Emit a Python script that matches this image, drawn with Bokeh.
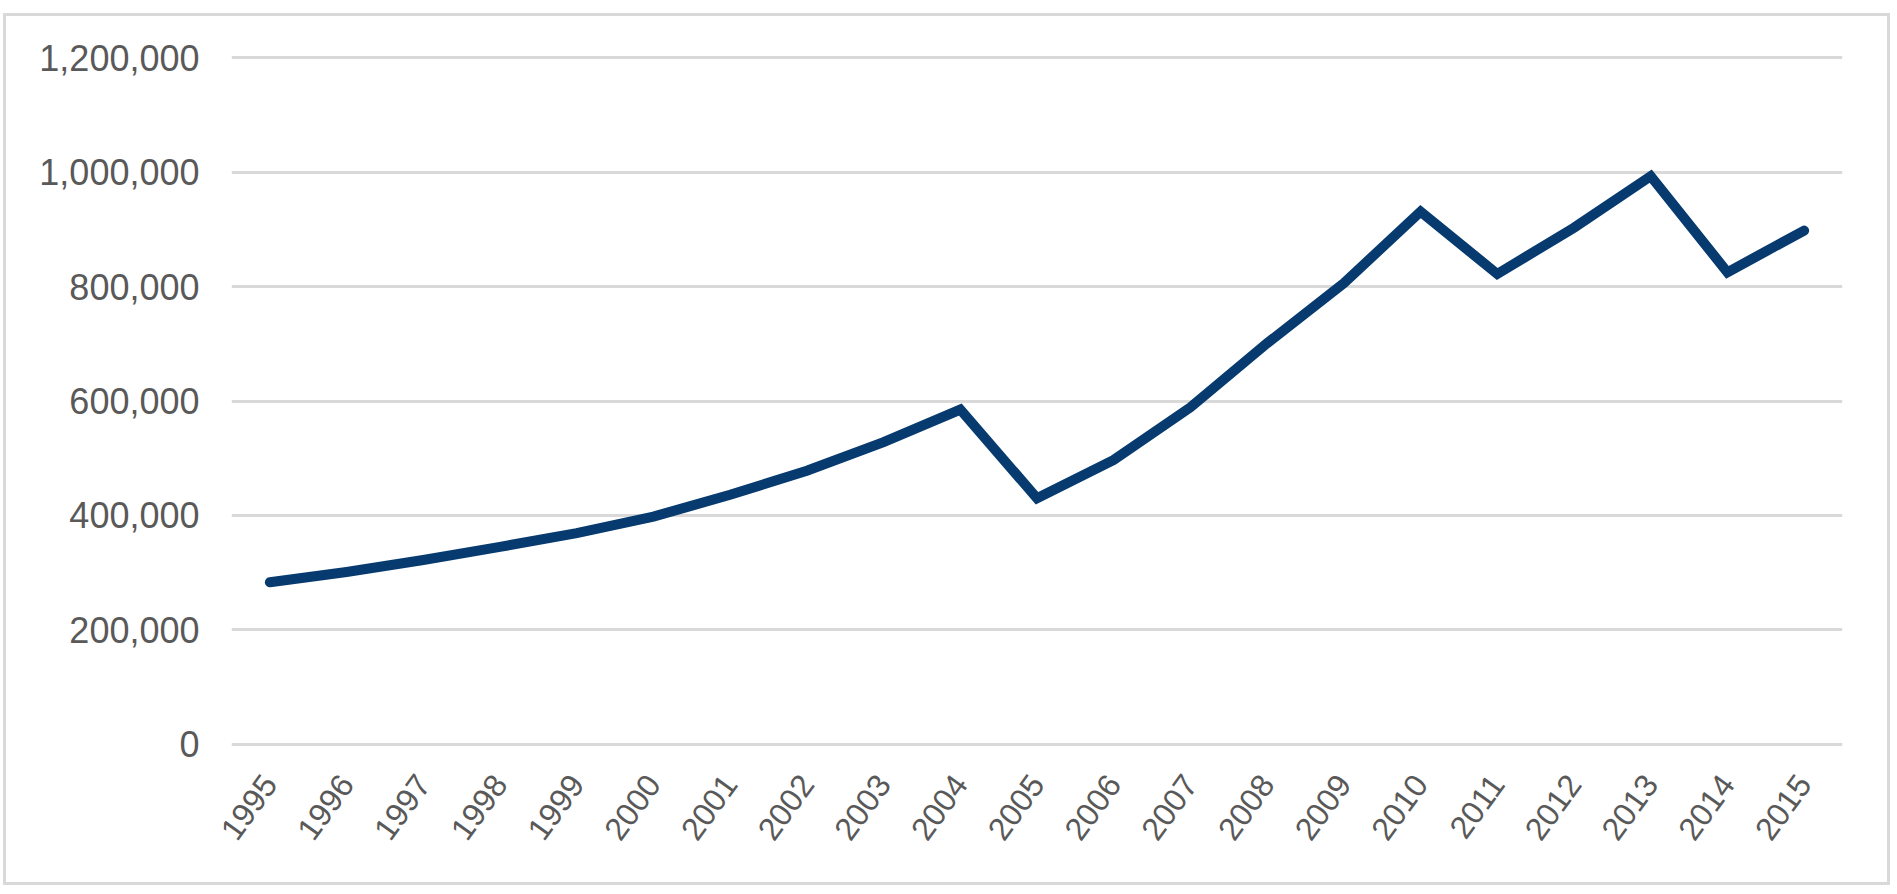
import math
from bokeh.plotting import figure
from bokeh.models import Range1d, FixedTicker, NumeralTickFormatter
from bokeh.embed import file_html
from bokeh.resources import INLINE

years = ["1995", "1996", "1997", "1998", "1999", "2000", "2001", "2002", "2003", "2004",
         "2005", "2006", "2007", "2008", "2009", "2010", "2011", "2012", "2013", "2014", "2015"]
values = [283000, 301000, 322000, 345000, 369000, 398000, 436000, 478000, 528000, 585000,
          430000, 497000, 589000, 701000, 806000, 931000, 822000, 903000, 993000, 825000, 898000]
y_ticks = [0, 200000, 400000, 600000, 800000, 1000000, 1200000]

p = figure(x_range=years, y_range=Range1d(-4000, 1204000),
           width=1887, height=872, output_backend="svg", toolbar_location=None,
           min_border_left=225, min_border_right=51, min_border_top=39, min_border_bottom=142)
p.styles = {"border": "3px solid #d9d9d9", "transform": "translate(3px, 13px)"}
p.x_range.range_padding = 0
p.outline_line_color = None
p.background_fill_color = "white"
p.border_fill_color = "white"

p.line(years, values, line_color="#073b6f", line_width=10, line_join="miter", line_cap="round")

p.xgrid.grid_line_color = None
p.ygrid.grid_line_color = "#d9d9d9"
p.ygrid.grid_line_width = 3

p.yaxis.ticker = FixedTicker(ticks=y_ticks)
p.yaxis.formatter = NumeralTickFormatter(format="0,0")
for ax in (p.xaxis[0], p.yaxis[0]):
    ax.axis_line_color = None
    ax.major_tick_line_color = None
    ax.minor_tick_line_color = None
    ax.major_tick_out = 0
    ax.major_tick_in = 0
    ax.major_label_text_color = "#595959"
    ax.major_label_text_font = "Liberation Sans"

p.yaxis.major_label_text_font_size = "36px"
p.yaxis.major_label_standoff = 32
p.xaxis.major_label_text_font_size = "32px"
p.xaxis.major_label_orientation = math.radians(54)
p.xaxis.major_label_standoff = 32

open("out.html", "w").write(file_html(p, INLINE))
